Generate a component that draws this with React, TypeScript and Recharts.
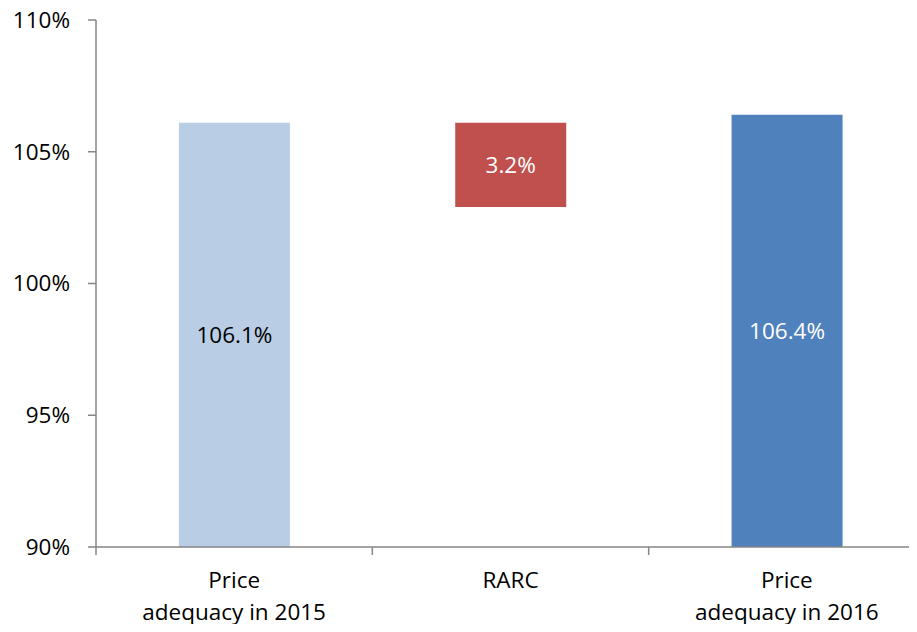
import React from 'react';
import { BarChart, Bar, XAxis, YAxis, Cell, LabelList } from 'recharts';

// Waterfall: price adequacy 2015, the RARC step, price adequacy 2016
const categories = ['Price\nadequacy in 2015', 'RARC', 'Price\nadequacy in 2016'];
const barValues = [106.1, 3.2, 106.4];
const barKinds = ['total', 'delta', 'total'];
const barColors = ['#B9CDE5', '#C0504D', '#4F81BD'];
const labelColors = ['#000000', '#FFFFFF', '#FFFFFF'];
const yTicks = [90, 95, 100, 105, 110];

const AXIS_FLOOR = 90;
const FONT = '"Open Sans", sans-serif';
const FONT_SIZE = 22.5;
const AXIS_GREY = '#868686';

// Each bar is a [low, high] range; a delta step hangs down from the previous top.
let runningTop = AXIS_FLOOR;
const data = categories.map((name, i) => {
  let range: [number, number];
  if (barKinds[i] === 'total') {
    range = [AXIS_FLOOR, barValues[i]];
    runningTop = barValues[i];
  } else {
    range = [runningTop - barValues[i], runningTop];
  }
  return { name, range, label: `${barValues[i].toFixed(1)}%` };
});

// Category label plus a tick mark on the band's left boundary
const XTick = (props: any) => {
  const { x, y, payload, index } = props;
  const half = payload?.offset ?? 0;
  const lines = String(payload.value).split('\n');
  return (
    <g>
      <line x1={x - half} x2={x - half} y1={y} y2={y + 8} stroke={AXIS_GREY} strokeWidth={1.5} />
      {index === categories.length - 1 && (
        <line x1={x + half} x2={x + half} y1={y} y2={y + 8} stroke={AXIS_GREY} strokeWidth={1.5} />
      )}
      <text x={x} y={y} textAnchor="middle" fill="#000" fontSize={FONT_SIZE} fontFamily={FONT}>
        {lines.map((line: string, i: number) => (
          <tspan key={i} x={x} dy={i === 0 ? 41 : 32}>
            {line}
          </tspan>
        ))}
      </text>
    </g>
  );
};

const BarLabel = (props: any) => {
  const { x, y, width, height, index, value } = props;
  return (
    <text
      x={x + width / 2}
      y={y + height / 2}
      textAnchor="middle"
      dominantBaseline="central"
      fill={labelColors[index]}
      fontSize={FONT_SIZE}
      fontFamily={FONT}
    >
      {value}
    </text>
  );
};

export default function App() {
  return (
    <div style={{ margin: '-8px', width: 917, height: 632, overflow: 'hidden', background: '#fff' }}>
      <BarChart
        width={935}
        height={632}
        data={data}
        margin={{ top: 20, right: 10, bottom: 0, left: 0 }}
        barCategoryGap="30%"
      >
        <XAxis
          dataKey="name"
          height={85}
          interval={0}
          tickLine={false}
          tickSize={0}
          tickMargin={0}
          axisLine={{ stroke: AXIS_GREY, strokeWidth: 1.5 }}
          tick={<XTick />}
        />
        <YAxis
          type="number"
          domain={[90, 110]}
          ticks={yTicks}
          width={96}
          allowDataOverflow
          tickSize={8}
          tickMargin={18}
          axisLine={{ stroke: AXIS_GREY, strokeWidth: 1.5 }}
          tickLine={{ stroke: AXIS_GREY, strokeWidth: 1.5 }}
          tickFormatter={(v: number) => `${v}%`}
          tick={{ fill: '#000', fontSize: FONT_SIZE, fontFamily: FONT }}
        />
        <Bar dataKey="range" isAnimationActive={false}>
          {data.map((d, i) => (
            <Cell key={d.name} fill={barColors[i]} />
          ))}
          <LabelList dataKey="label" content={<BarLabel />} />
        </Bar>
      </BarChart>
    </div>
  );
}
